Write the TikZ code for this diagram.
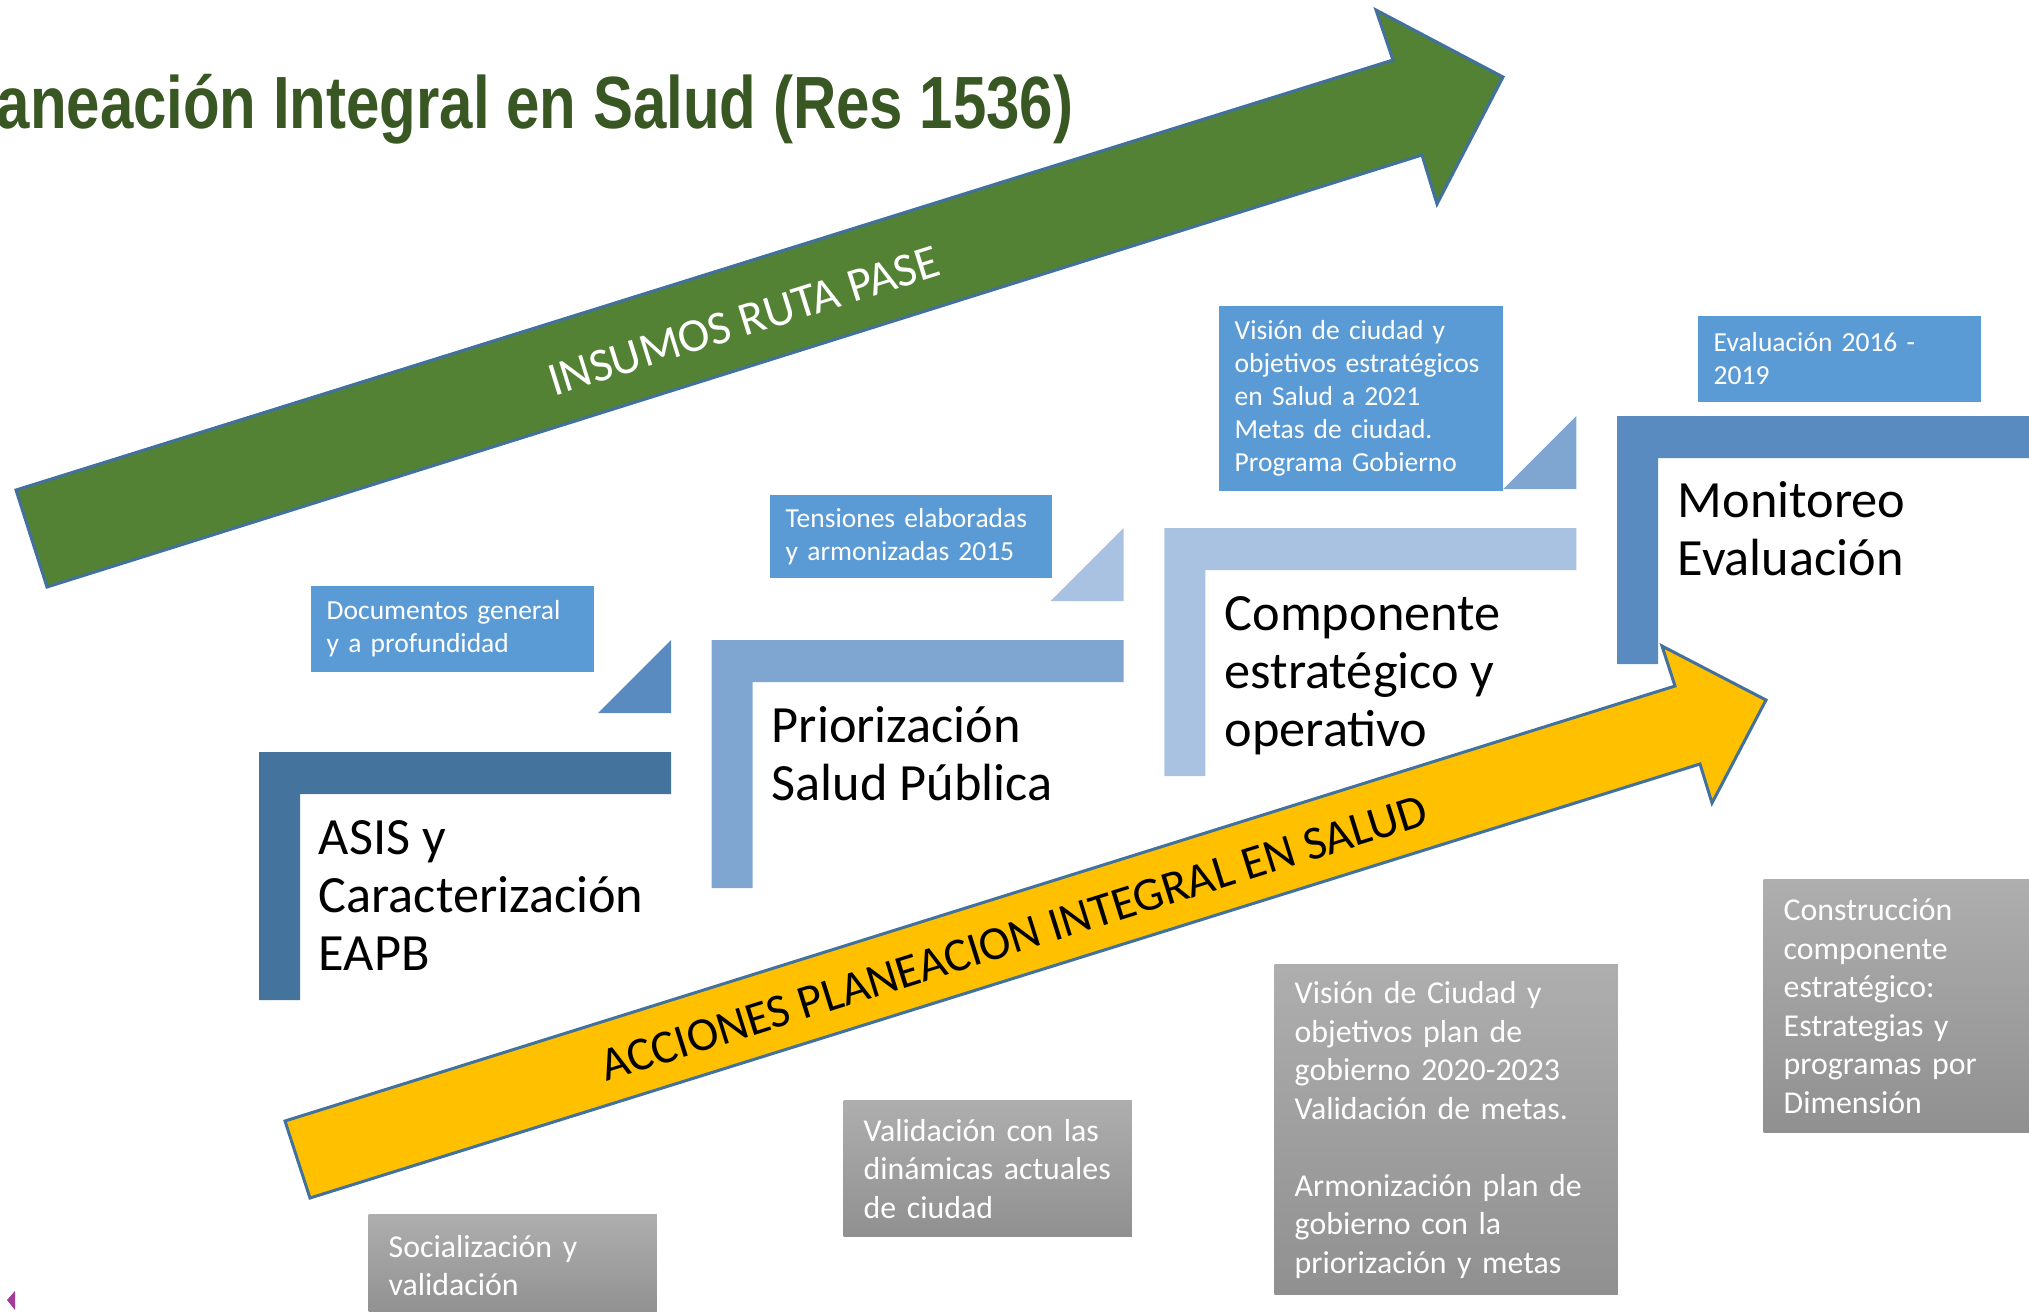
\documentclass[tikz,border=0pt]{standalone}
\usepackage{fontspec}
\setmainfont{Carlito}
\newfontfamily\titlefont[FakeStretch=0.81]{Liberation Sans}
\usetikzlibrary{positioning,calc}
\definecolor{ipTitle}{HTML}{385723}
\definecolor{ipGreen}{HTML}{548235}
\definecolor{ipYellow}{HTML}{FFC000}
\definecolor{ipEdge}{HTML}{41719C}
\definecolor{ipNote}{HTML}{5B9BD5}
\definecolor{ipGrayTop}{HTML}{AEAEAE}
\definecolor{ipGrayBot}{HTML}{909090}
\definecolor{ipStepA}{HTML}{44739E}
\definecolor{ipStepB}{HTML}{7FA6D1}
\definecolor{ipStepC}{HTML}{A9C2E2}
\definecolor{ipStepD}{HTML}{5A8BC0}
\definecolor{ipMark}{HTML}{A23C98}
\newcommand{\rowsof}[1]{\begin{tabular}[t]{@{}l@{}}#1\end{tabular}}
\tikzset{
  bigarrow/.style={draw=ipEdge, line width=0.85pt, line join=miter},
  arrowtext/.style={font=\fontsize{13.5}{16}\selectfont, inner sep=0pt, rotate=17.4},
  steplabel/.style={font=\fontsize{14.88}{16.5}\selectfont, inner sep=0pt, anchor=base west},
  notebox/.style={
    fill=ipNote, text=white, font=\fontsize{7.82}{9.39}\selectfont,
    align=left, anchor=north west, inner xsep=0.16cm, inner ysep=0pt
  },
  taskbox/.style={
    top color=ipGrayTop, bottom color=ipGrayBot, text=white,
    font=\fontsize{9.05}{10.95}\selectfont,
    align=left, anchor=north west, inner xsep=0.2cm, inner ysep=0pt
  }
}

\begin{document}
\begin{tikzpicture}[x=0.01cm, y=-0.01cm]
  \useasboundingbox (0,0) rectangle (2029,1311);
  \clip (0,0) rectangle (2029,1311);

  % title
  \node[font=\titlefont\bfseries\fontsize{21.05}{25}\selectfont, text=ipTitle,
    anchor=base west, inner sep=0pt] (title) at (-4,128)
    {aneación Integral en Salud (Res 1536)};

  % steps
  \foreach \i/\col in {0/ipStepA,1/ipStepB,2/ipStepC,3/ipStepD}
    \fill[\col] ({259+452.7*\i},{752-112*\i}) -- ++(412,0) -- ++(0,42)
      -- ++(-371,0) -- ++(0,206) -- ++(-41,0) -- cycle;
  \foreach \i/\col in {0/ipStepD,1/ipStepC,2/ipStepB}
    \fill[\col] ({671+452.7*\i},{640-112*\i}) -- ++(0,73) -- ++(-73,0) -- cycle;

  \node[steplabel] (asis) at (318,854) {\rowsof{ASIS y\\Caracterización\\EAPB}};
  \node[steplabel] (prior) at (771,742) {\rowsof{Priorización\\Salud Pública}};
  \node[steplabel] (comp) at (1224,630) {\rowsof{Componente\\estratégico y\\operativo}};
  \node[steplabel] (monit) at (1677,517) {\rowsof{Monitoreo\\Evaluación}};

  % inputs
  \node[notebox, text width=2.51cm, minimum height=0.86cm] (docs) at (310,585)
    {Documentos general\\y a profundidad};
  \node[notebox, text width=2.50cm, minimum height=0.83cm] (tens) at (769,494)
    {Tensiones elaboradas\\y armonizadas 2015};
  \node[notebox, text width=2.52cm, minimum height=1.85cm] (vision) at (1218,305)
    {Visión de ciudad y\\objetivos estratégicos\\en Salud a 2021\\Metas de ciudad.\\Programa Gobierno};
  \node[notebox, text width=2.51cm, minimum height=0.86cm] (eval) at (1697,315)
    {Evaluación 2016 -\\2019};

  % actions
  \node[taskbox, text width=2.48cm, minimum height=1.02cm] (soc) at (368,1214)
    {Socialización y\\validación};
  \node[taskbox, text width=2.48cm, minimum height=1.36cm] (valid) at (843,1100)
    {Validación con las\\dinámicas actuales\\de ciudad};
  \node[taskbox, text width=3.03cm, minimum height=3.30cm] (plan) at (1274,964)
    {Visión de Ciudad y\\objetivos plan de\\gobierno 2020-2023\\Validación de metas.\\[10.95pt]Armonización plan de\\gobierno con la\\priorización y metas};
  \node[taskbox, text width=2.48cm, minimum height=2.53cm] (cons) at (1763,879)
    {Construcción\\componente\\estratégico:\\Estrategias y\\programas por\\Dimensión};

  % arrows
  \draw[bigarrow, fill=ipGreen] (16,490) -- (1393,60) -- (1376,10) -- (1503,77)
    -- (1437,204) -- (1422,155) -- (47,587) -- cycle;
  \node[arrowtext, text=white] (insumos) at (744,321) {INSUMOS RUTA PASE};
  \draw[bigarrow, fill=ipYellow] (285,1121) -- (1675,686) -- (1662,646) -- (1766,700)
    -- (1712,803) -- (1700,764) -- (310,1198) -- cycle;
  \node[arrowtext, text=black] (acciones) at (1014,938) {ACCIONES PLANEACION INTEGRAL EN SALUD};

  \fill[ipMark] (7,1300) -- (15,1291) -- (15,1310) -- cycle;
\end{tikzpicture}
\end{document}
